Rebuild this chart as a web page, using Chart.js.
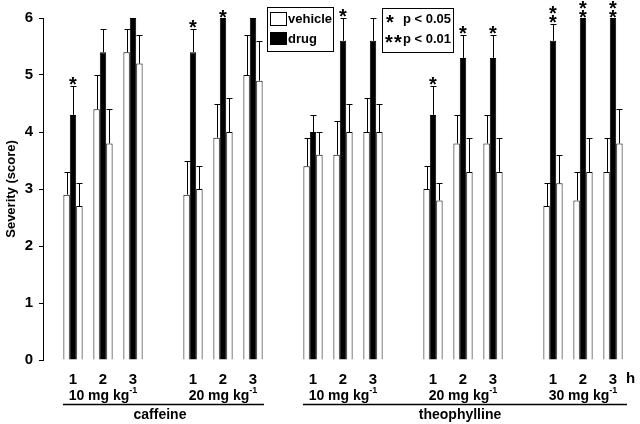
<!DOCTYPE html>
<html>
<head>
<meta charset="utf-8">
<script src="https://cdn.jsdelivr.net/npm/chart.js@4.4.1/dist/chart.umd.min.js"></script>
<style>
  html, body { margin: 0; padding: 0; background: #fff; }
</style>
</head>
<body>
<canvas id="chart" width="640" height="424"></canvas>
<script>
// x slots: empty slots separate the dose groups
const slotLabels = ['', '1', '2', '3', '', '1', '2', '3', '', '1', '2', '3', '', '1', '2', '3', '', '1', '2', '3'];

// order: caffeine 10, caffeine 20, theophylline 10, 20, 30 (hours 1-3 each)
const vehicleA    = [2.9, 4.4, 5.4, 2.9, 3.9, 5.0, 3.4, 3.6, 4.0, 3.0, 3.8, 3.8, 2.7, 2.8, 3.3];
const vehicleAErr = [3.3, 5.0, 5.8, 3.5, 4.5, 5.7, 3.9, 4.2, 4.6, 3.4, 4.3, 4.3, 3.1, 3.3, 3.9];
const drug        = [4.3, 5.4, 6.0, 5.4, 6.0, 6.0, 4.0, 5.6, 5.6, 4.3, 5.3, 5.3, 5.6, 6.0, 6.0];
const drugErr     = [4.8, 5.8, null, 5.8, null, null, 4.3, 6.0, 6.0, 4.8, 5.7, 5.7, 5.9, null, null];
const vehicleB    = [2.7, 3.8, 5.2, 3.0, 4.0, 4.9, 3.6, 4.0, 4.0, 2.8, 3.3, 3.3, 3.1, 3.3, 3.8];
const vehicleBErr = [3.1, 4.4, 5.7, 3.4, 4.6, 5.6, 4.0, 4.5, 4.5, 3.1, 3.9, 3.9, 3.6, 3.9, 4.4];
const drugStars   = [1, 0, 0, 1, 1, 0, 0, 1, 0, 1, 1, 1, 2, 2, 2];

const doseLabels = ['10 mg kg', '20 mg kg', '10 mg kg', '20 mg kg', '30 mg kg'];
const compounds = [
  { name: 'caffeine', doses: [0, 1] },
  { name: 'theophylline', doses: [2, 3, 4] }
];

const FONT = 'Liberation Sans, Arial, sans-serif';

// put 15 values into the 20 slots
function toSlots(arr) {
  const out = new Array(slotLabels.length).fill(null);
  arr.forEach((v, i) => { out[slotOf(i)] = v; });
  return out;
}
function slotOf(i) { return 1 + Math.floor(i / 3) * 4 + (i % 3); }

const errorTops = [vehicleAErr, drugErr, vehicleBErr];

const errorBars = {
  id: 'errorBars',
  afterDatasetsDraw(chart) {
    const ctx = chart.ctx;
    const y = chart.scales.y;
    ctx.save();
    ctx.strokeStyle = '#000';
    ctx.lineWidth = 1;
    errorTops.forEach((tops, d) => {
      const meta = chart.getDatasetMeta(d);
      tops.forEach((t, i) => {
        if (t == null) return;
        const bar = meta.data[slotOf(i)];
        const x = Math.round(bar.x) + 0.5;
        const ty = Math.round(y.getPixelForValue(t)) + 0.5;
        ctx.beginPath();
        ctx.moveTo(x, bar.y);
        ctx.lineTo(x, ty);
        ctx.moveTo(x - 3, ty);
        ctx.lineTo(x + 3, ty);
        ctx.stroke();
      });
    });
    ctx.restore();
  }
};

function drawStar(ctx, cx, cy, size) {
  ctx.font = 'bold ' + size + 'px ' + FONT;
  ctx.textAlign = 'center';
  ctx.textBaseline = 'alphabetic';
  const m = ctx.measureText('*');
  const base = cy + (m.actualBoundingBoxAscent - m.actualBoundingBoxDescent) / 2;
  ctx.fillText('*', cx, base);
}

const annotations = {
  id: 'annotations',
  afterDraw(chart) {
    const ctx = chart.ctx;
    const x = chart.scales.x;
    const y = chart.scales.y;
    ctx.save();
    ctx.fillStyle = '#000';
    ctx.strokeStyle = '#000';

    // significance stars above drug bars
    const meta = chart.getDatasetMeta(1);
    drugStars.forEach((n, i) => {
      if (!n) return;
      const bar = meta.data[slotOf(i)];
      const top = drugErr[i] != null ? y.getPixelForValue(drugErr[i]) + 0.5 : bar.y + 1.5;
      for (let k = 0; k < n; k++) {
        drawStar(ctx, bar.x, top - 5.5 - k * 9, 20);
      }
    });

    // dose labels with superscript
    doseLabels.forEach((lab, g) => {
      const cx = x.getPixelForValue(2 + g * 4);
      ctx.font = 'bold 14px ' + FONT;
      const w1 = ctx.measureText(lab).width;
      ctx.font = 'bold 9px ' + FONT;
      const w2 = ctx.measureText('-1').width;
      const left = cx - (w1 + w2) / 2;
      ctx.textAlign = 'left';
      ctx.textBaseline = 'alphabetic';
      ctx.font = 'bold 14px ' + FONT;
      ctx.fillText(lab, left, 400);
      ctx.font = 'bold 9px ' + FONT;
      ctx.fillText('-1', left + w1, 393);
    });

    // compound underline and names
    compounds.forEach((c, k) => {
      const first = c.doses[0] * 4 + 1;
      const last = c.doses[c.doses.length - 1] * 4 + 3;
      const x0 = x.getPixelForValue(first) - 10;
      const x1 = x.getPixelForValue(last) + 11 + (k === 1 ? 3 : 0);
      ctx.lineWidth = 1.5;
      ctx.beginPath();
      ctx.moveTo(x0, 404.5);
      ctx.lineTo(x1, 404.5);
      ctx.stroke();
      ctx.font = 'bold 14px ' + FONT;
      ctx.textAlign = 'center';
      ctx.fillText(c.name, x.getPixelForValue((first + last) / 2) - 3, 419);
    });

    // hour unit
    ctx.font = 'bold 15px ' + FONT;
    ctx.textAlign = 'left';
    ctx.textBaseline = 'middle';
    ctx.fillText('h', x.getPixelForValue(slotLabels.length - 1) + 13, 379);

    // legend box
    ctx.lineWidth = 1;
    ctx.fillStyle = '#fff';
    ctx.fillRect(267.5, 7.5, 66, 44);
    ctx.strokeRect(267.5, 7.5, 66, 44);
    ctx.strokeRect(270.5, 12.5, 16, 13);
    ctx.fillStyle = '#000';
    ctx.fillRect(270, 32, 17, 13);
    ctx.font = 'bold 13px ' + FONT;
    ctx.textAlign = 'left';
    ctx.textBaseline = 'middle';
    ctx.fillText('vehicle', 288, 19);
    ctx.fillText('drug', 288, 39);

    // significance key
    ctx.fillStyle = '#fff';
    ctx.fillRect(382.5, 8.5, 71, 44);
    ctx.strokeRect(382.5, 8.5, 71, 44);
    ctx.fillStyle = '#000';
    drawStar(ctx, 390, 19, 20);
    drawStar(ctx, 389, 39, 20);
    drawStar(ctx, 398, 39, 20);
    ctx.font = 'bold 13px ' + FONT;
    ctx.textAlign = 'right';
    ctx.textBaseline = 'middle';
    ctx.fillText('p < 0.05', 451, 19);
    ctx.fillText('p < 0.01', 451, 39);
    ctx.restore();
  }
};

const barStyle = { borderColor: '#000', borderWidth: 1, categoryPercentage: 0.64, barPercentage: 1.0, clip: false };

new Chart(document.getElementById('chart'), {
  type: 'bar',
  data: {
    labels: slotLabels,
    datasets: [
      { label: 'vehicle', data: toSlots(vehicleA), backgroundColor: '#fff', ...barStyle },
      { label: 'drug', data: toSlots(drug), backgroundColor: '#000', ...barStyle },
      { label: 'vehicle', data: toSlots(vehicleB), backgroundColor: '#fff', ...barStyle }
    ]
  },
  options: {
    responsive: false,
    animation: false,
    devicePixelRatio: 1,
    layout: { padding: { top: 18, right: 27, left: 0, bottom: 0 } },
    plugins: {
      legend: { display: false },
      tooltip: { enabled: false }
    },
    scales: {
      x: {
        offset: false,
        grid: { display: false },
        border: { display: false },
        ticks: {
          color: '#000',
          font: { family: FONT, size: 15, weight: 'bold' },
          padding: 3,
          maxRotation: 0,
          autoSkip: false
        },
        afterFit(scale) { scale.height = 64; }
      },
      y: {
        min: 0,
        max: 6,
        ticks: {
          stepSize: 1,
          color: '#000',
          padding: 6,
          font: { family: FONT, size: 15, weight: 'bold' }
        },
        grid: { drawOnChartArea: false, drawTicks: true, tickLength: 4, color: '#000' },
        border: { display: true, color: '#000', width: 1 },
        title: {
          display: true,
          text: 'Severity (score)',
          color: '#000',
          font: { family: FONT, size: 13, weight: 'bold' },
          padding: { top: 4, bottom: 0 }
        },
        afterFit(scale) { scale.width = 43; }
      }
    }
  },
  plugins: [errorBars, annotations]
});
</script>
</body>
</html>
